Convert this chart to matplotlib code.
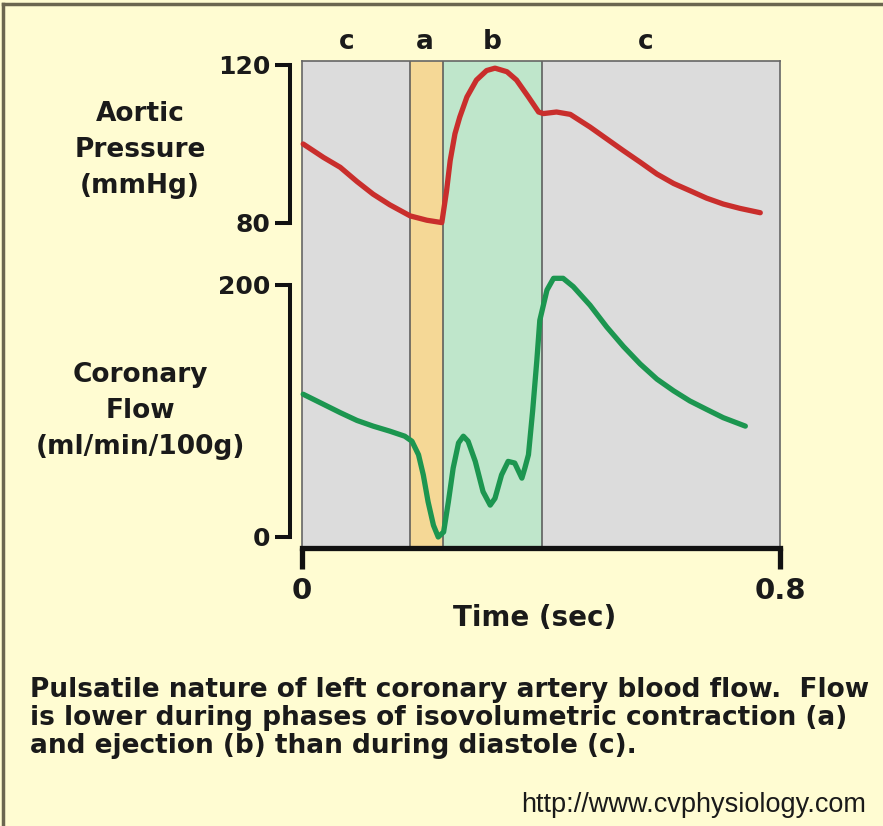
import numpy as np
import matplotlib
matplotlib.use('Agg')
import matplotlib.pyplot as plt
from matplotlib.lines import Line2D

# phase boundaries (sec)
phase_edges = [0.0, 0.181, 0.236, 0.402, 0.8]
phase_names = ['c', 'a', 'b', 'c']
phase_label_x = [0.075, 0.206, 0.318, 0.575]

# aortic pressure (mmHg)
p_t = [0.002, 0.036, 0.064, 0.092, 0.119, 0.147, 0.181, 0.209, 0.234, 0.242, 0.248,
       0.256, 0.264, 0.276, 0.292, 0.309, 0.323, 0.343, 0.359, 0.379, 0.396, 0.404,
       0.426, 0.449, 0.482, 0.510, 0.538, 0.566, 0.594, 0.622, 0.649, 0.677, 0.705,
       0.733, 0.767]
p_v = [100.0, 96.6, 94.1, 90.5, 87.3, 84.6, 81.8, 80.7, 80.1, 88.2, 95.8,
       102.6, 106.8, 111.9, 116.2, 118.6, 119.2, 118.3, 116.2, 111.9, 108.1, 107.7,
       108.1, 107.5, 104.3, 101.3, 98.3, 95.4, 92.4, 90.0, 88.2, 86.3, 84.8,
       83.7, 82.6]

# coronary flow (ml/min/100g)
f_t = [0.002, 0.036, 0.064, 0.092, 0.119, 0.147, 0.172, 0.184, 0.195, 0.203, 0.211,
       0.220, 0.228, 0.237, 0.245, 0.253, 0.262, 0.270, 0.278, 0.290, 0.303, 0.315,
       0.323, 0.334, 0.345, 0.356, 0.368, 0.373, 0.379, 0.386, 0.393, 0.398, 0.410,
       0.421, 0.437, 0.454, 0.482, 0.510, 0.538, 0.566, 0.594, 0.622, 0.649, 0.677,
       0.705, 0.742]
f_v = [113.3, 105.3, 98.7, 92.5, 88.0, 84.0, 80.0, 76.0, 65.3, 49.3, 28.0,
       9.3, 0.0, 4.0, 28.0, 54.7, 74.7, 80.0, 76.0, 60.0, 36.0, 25.3,
       30.7, 49.3, 60.0, 58.7, 46.7, 54.7, 65.3, 100.0, 140.0, 172.0, 196.0,
       205.3, 205.3, 198.7, 184.0, 166.7, 151.2, 137.3, 125.3, 116.0, 108.0, 101.3,
       94.7, 88.0]

p_ticks = [80, 120]
f_ticks = [0, 200]
x_ticks = [0, 0.8]

bg = '#FFFCD2'
panel_gray = '#DCDCDC'
col_a = '#F5D896'
col_b = '#BFE6CB'
red = '#C92E2C'
green = '#1C9650'

W, H = 883, 826
fig = plt.figure(figsize=(W / 100, H / 100), dpi=100, facecolor=bg)


def px_axes(x0, y0, x1, y1):
    return fig.add_axes([x0 / W, 1 - y1 / H, (x1 - x0) / W, (y1 - y0) / H])


# background panel with phases and the time axis
ax = px_axes(302, 61, 780, 548)
ax.set_facecolor(panel_gray)
ax.set_xlim(0, 0.8)
ax.set_ylim(0, 1)
ax.axvspan(phase_edges[1], phase_edges[2], color=col_a, lw=0)
ax.axvspan(phase_edges[2], phase_edges[3], color=col_b, lw=0)
for e in phase_edges[1:4]:
    ax.axvline(e, color='#555555', lw=1.1)
for s in ['top', 'left', 'right']:
    ax.spines[s].set_color('#666666')
    ax.spines[s].set_linewidth(1.2)
ax.spines['bottom'].set_color('#111111')
ax.spines['bottom'].set_linewidth(3.8)
ax.spines['bottom'].set_capstyle('projecting')
ax.set_yticks([])
ax.set_xticks(x_ticks)
ax.set_xticklabels(['0', '0.8'])
ax.tick_params(axis='x', direction='out', length=15, width=3.8, color='#111111',
               pad=6, labelsize=21)
for lab in ax.get_xticklabels():
    lab.set_fontweight('bold')
    lab.set_color('#1a1a1a')
ax.set_xlabel('Time (sec)', fontsize=20, fontweight='bold', color='#1a1a1a', labelpad=-3)
ax.xaxis.set_label_coords(0.486, -0.115)

for name, xl in zip(phase_names, phase_label_x):
    ax.text(xl, 1.0 + 19 / 487, name, transform=ax.get_xaxis_transform(),
            ha='center', va='center', fontsize=19, fontweight='bold', color='#1a1a1a')


def curve_axes(y0, y1, lim, ticks, xs, ys, color):
    a = px_axes(302, y0, 780, y1)
    a.patch.set_visible(False)
    a.set_xlim(0, 0.8)
    a.set_ylim(*lim)
    for s in ['top', 'right', 'bottom']:
        a.spines[s].set_visible(False)
    a.spines['left'].set_position(('outward', 9))
    a.spines['left'].set_linewidth(2.9)
    a.spines['left'].set_color('#111111')
    a.spines['left'].set_capstyle('projecting')
    a.set_xticks([])
    a.set_yticks(ticks)
    a.set_yticklabels([str(t) for t in ticks])
    a.tick_params(axis='y', direction='out', length=11, width=2.9, color='#111111',
                  pad=3, labelsize=18)
    for lab in a.get_yticklabels():
        lab.set_fontweight('bold')
        lab.set_color('#1a1a1a')
    a.plot(xs, ys, color=color, lw=3.8, solid_joinstyle='round',
           solid_capstyle='round', clip_on=False)
    return a


curve_axes(65, 223, (80, 120), p_ticks, p_t, p_v, red)
curve_axes(285, 537, (0, 200), f_ticks, f_t, f_v, green)

fig.text(140 / W, 1 - 150 / H, 'Aortic\nPressure\n(mmHg)', ha='center', va='center',
         fontsize=19, fontweight='bold', linespacing=1.5, color='#1a1a1a')
fig.text(140 / W, 1 - 411 / H, 'Coronary\nFlow\n(ml/min/100g)', ha='center', va='center',
         fontsize=19, fontweight='bold', linespacing=1.5, color='#1a1a1a')

caption = ('Pulsatile nature of left coronary artery blood flow.  Flow\n'
           'is lower during phases of isovolumetric contraction (a)\n'
           'and ejection (b) than during diastole (c).')
fig.text(30 / W, 1 - 718 / H, caption, ha='left', va='center', fontsize=19,
         fontweight='bold', linespacing=1.1, color='#1a1a1a')
fig.text(866 / W, 1 - 805 / H, 'http://www.cvphysiology.com', ha='right', va='center',
         fontsize=19.5, color='#1a1a1a', family=['Liberation Sans', 'DejaVu Sans'])

# frame on left and top edges
fig.add_artist(Line2D([2.5 / W, 2.5 / W], [0, 1 - 3.5 / H], color='#6B6650', lw=2.5))
fig.add_artist(Line2D([2.5 / W, 1], [1 - 3.5 / H, 1 - 3.5 / H], color='#6B6650', lw=2.5))

fig.savefig('out.png', dpi=100, facecolor=bg)
